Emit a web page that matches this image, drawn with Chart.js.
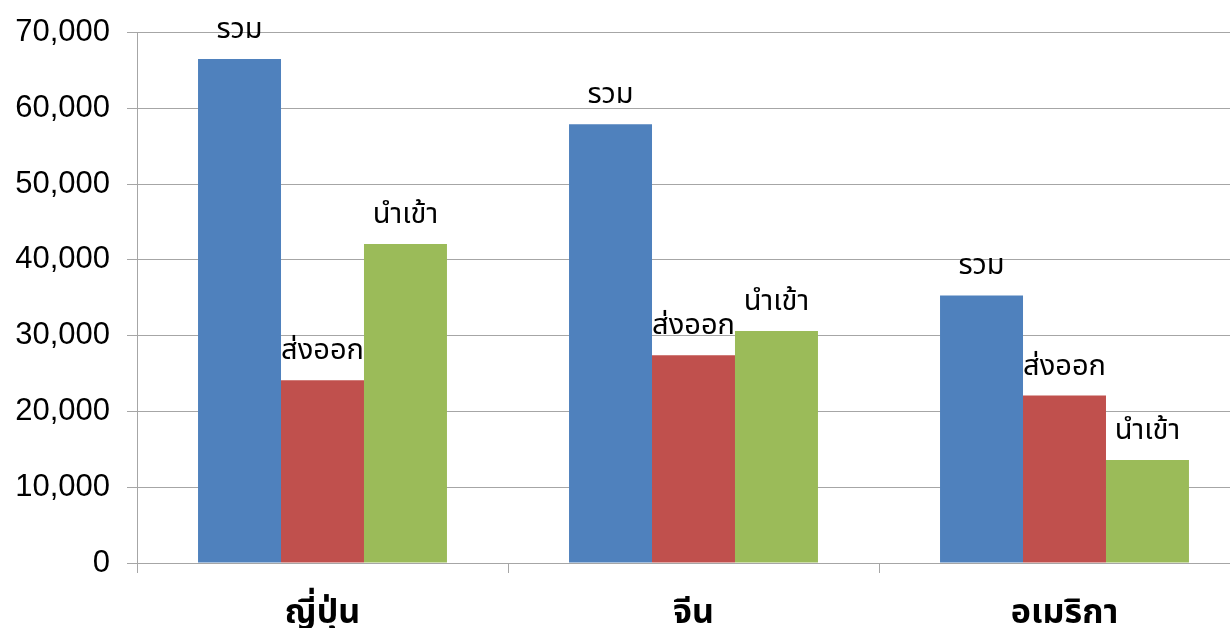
<!DOCTYPE html>
<html>
<head>
<meta charset="utf-8">
<script src="https://cdn.jsdelivr.net/npm/chart.js@4"></script>
<style>
    html, body { margin: 0; padding: 0; background: #fff; overflow: hidden; }
    #wrap { position: relative; width: 1250px; height: 628px; }
</style>
</head>
<body>
<div id="wrap"><canvas id="chart"></canvas></div>
<script>
// ข้อมูลจากภาพ
const categories = ["ญี่ปุ่น", "จีน", "อเมริกา"];
const seriesNames = ["รวม", "ส่งออก", "นำเข้า"];
const totalValues = [66500, 57900, 35300];
const exportValues = [24100, 27400, 22100];
const importValues = [42100, 30600, 13600];
const yTicks = [0, 10000, 20000, 30000, 40000, 50000, 60000, 70000];

const colors = ["#4F81BD", "#C0504D", "#9BBB59"];
const thaiFont = "'Liberation Sans', 'Noto Sans Thai', Tahoma, sans-serif";

// วาดชื่อชุดข้อมูลเหนือแท่ง
const seriesLabelPlugin = {
    id: "seriesLabels",
    afterDatasetsDraw(chart) {
        const ctx = chart.ctx;
        ctx.save();
        ctx.fillStyle = "#000";
        ctx.font = "29px " + thaiFont;
        ctx.textAlign = "center";
        ctx.textBaseline = "alphabetic";
        chart.data.datasets.forEach((ds, i) => {
            chart.getDatasetMeta(i).data.forEach((bar) => {
                ctx.fillText(ds.label, bar.x, bar.y - 21);
            });
        });
        ctx.restore();
    }
};

new Chart(document.getElementById("chart"), {
    type: "bar",
    data: {
        labels: categories,
        datasets: [
            { label: seriesNames[0], data: totalValues, backgroundColor: colors[0] },
            { label: seriesNames[1], data: exportValues, backgroundColor: colors[1] },
            { label: seriesNames[2], data: importValues, backgroundColor: colors[2] }
        ]
    },
    options: {
        responsive: true,
        maintainAspectRatio: false,
        animation: false,
        layout: { padding: { top: 31, right: 0, left: 0, bottom: 0 } },
        datasets: {
            bar: { categoryPercentage: 0.671, barPercentage: 1.0 }
        },
        plugins: {
            legend: { display: false },
            tooltip: { enabled: false }
        },
        scales: {
            x: {
                grid: {
                    drawOnChartArea: false,
                    drawTicks: true,
                    tickLength: 10,
                    color: "#a6a6a6"
                },
                border: { color: "#a6a6a6" },
                ticks: {
                    color: "#000",
                    padding: 20,
                    font: { family: thaiFont, size: 34, weight: "bold" }
                },
                afterFit(scale) { scale.height = 65; }
            },
            y: {
                min: 0,
                max: 70000,
                afterBuildTicks(scale) {
                    scale.ticks = yTicks.map((v) => ({ value: v }));
                },
                grid: {
                    color: "#a6a6a6",
                    tickLength: 10
                },
                border: { color: "#a6a6a6" },
                ticks: {
                    color: "#000",
                    padding: 17,
                    font: { family: "'Liberation Sans', sans-serif", size: 31, lineHeight: 1 },
                    callback: (v) => v.toLocaleString("en-US")
                },
                afterFit(scale) { scale.width = 137; }
            }
        }
    },
    plugins: [seriesLabelPlugin]
});
</script>
</body>
</html>
